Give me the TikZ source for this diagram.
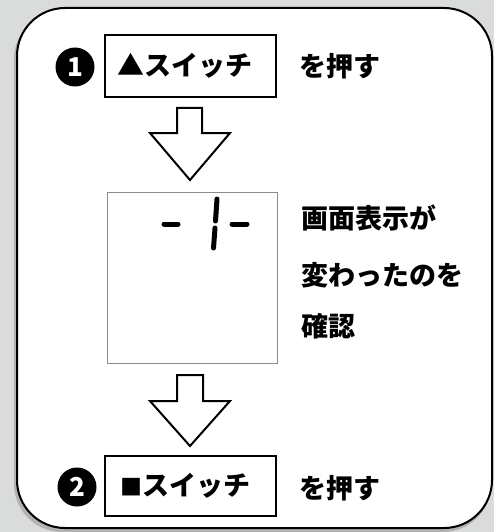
\documentclass[tikz,border=0pt]{standalone}
\usepackage{fontspec}
\newfontfamily\jp{Noto Sans CJK JP}
\begin{document}
\begin{tikzpicture}[x=1pt,y=-1pt,
  lbl/.style={font=\jp\bfseries\fontsize{27}{27}\selectfont, inner sep=0pt},
  keybox/.style={draw=black, line width=2pt, minimum width=171pt, minimum height=62pt, inner sep=0pt},
  numdot/.style={circle, fill=black, minimum size=39pt, inner sep=0pt, text=white, font=\jp\bfseries\fontsize{26}{26}\selectfont},
  blockarrow/.style={draw=black, line width=2pt, fill=white, line join=miter},
  seg/.style={line width=5pt, line cap=round}]
\useasboundingbox (0,0) rectangle (494,532);
\fill[fill={rgb,255:red,217;green,220;blue,219}] (0,0) rectangle (494,532);
% shadow + frame
\fill[gray!60, rounded corners=48pt] (14,11) rectangle (491,532);
\draw[fill=white, line width=2pt, rounded corners=48pt] (17,8) rectangle (492,528);
% step 1
\node[keybox] (k1) at (190.5,66) {};
\node[lbl] (k1t) at (185,66) {▲スイッチ};
\node[numdot] (n1) at (75,67) {1};
\node[lbl, anchor=west] (t1) at (299,66) {を押す};
% arrow 1
\draw[blockarrow] (177,108) -- (202,108) -- (202,133) -- (230,133) -- (190,180) -- (150,133) -- (177,133) -- cycle;
% display
\node[draw={rgb,255:red,140;green,140;blue,140}, line width=1pt, minimum width=170pt, minimum height=171pt, inner sep=0pt] (disp) at (192,277.5) {};
\draw[seg] (164,224) -- (178,224);
\draw[seg] (232,224) -- (247,224);
\draw[seg] (217,199) -- (215.5,221);
\draw[seg] (215,228) -- (213.5,248);
\node[lbl, anchor=west] (d1) at (301,218) {画面表示が};
\node[lbl, anchor=west] (d2) at (301,275) {変わったのを};
\node[lbl, anchor=west] (d3) at (301,326) {確認};
% arrow 2
\draw[blockarrow] (177,375) -- (203,375) -- (203,401) -- (230,401) -- (190,446) -- (150,401) -- (177,401) -- cycle;
% step 2
\node[keybox, minimum height=60pt] (k2) at (190.5,486) {};
\node[lbl] (k2t) at (185,486) {{\fontsize{22}{22}\selectfont ■}スイッチ};
\node[numdot] (n2) at (77,487) {2};
\node[lbl, anchor=west] (t2) at (299,488) {を押す};
\end{tikzpicture}
\end{document}
